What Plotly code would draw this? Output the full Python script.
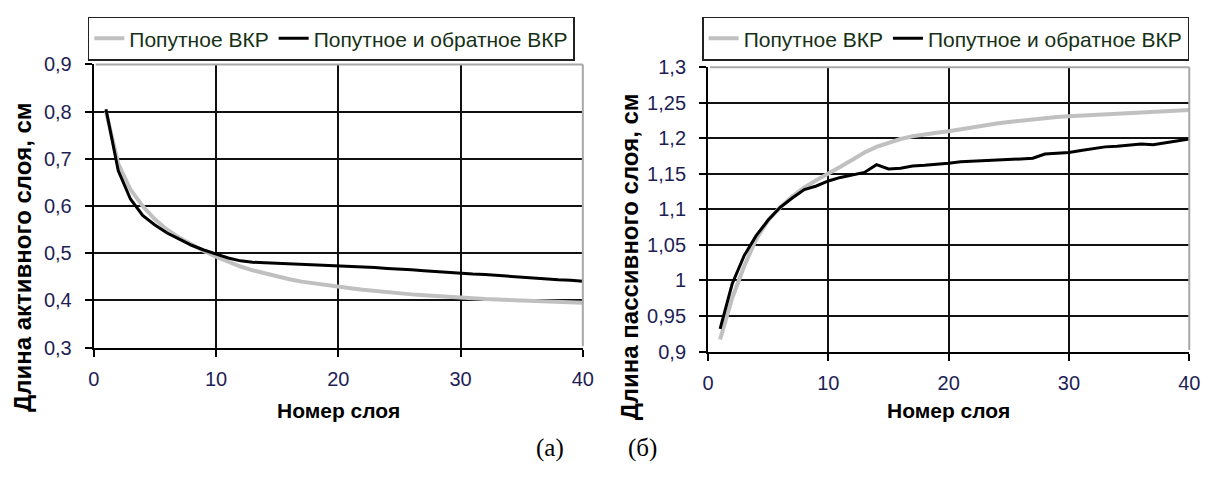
import plotly.graph_objects as go

W, H = 1218, 477

layers = list(range(1, 41))

# (а) Длина активного слоя, см
active_forward = [0.800, 0.690, 0.635, 0.600, 0.572, 0.550, 0.533, 0.518, 0.505, 0.493,
                  0.482, 0.472, 0.464, 0.457, 0.451, 0.445, 0.440, 0.436, 0.432, 0.429,
                  0.426, 0.423, 0.420, 0.418, 0.415, 0.413, 0.411, 0.409, 0.407, 0.405,
                  0.404, 0.403, 0.402, 0.401, 0.400, 0.399, 0.398, 0.397, 0.396, 0.395]
active_both = [0.805, 0.675, 0.615, 0.580, 0.560, 0.543, 0.530, 0.517, 0.507, 0.499,
               0.490, 0.484, 0.481, 0.480, 0.479, 0.478, 0.477, 0.476, 0.475, 0.473,
               0.472, 0.471, 0.470, 0.468, 0.467, 0.465, 0.463, 0.461, 0.459, 0.457,
               0.456, 0.455, 0.453, 0.451, 0.450, 0.448, 0.446, 0.444, 0.443, 0.441]

# (б) Длина пассивного слоя, см
passive_forward = [0.917, 0.975, 1.020, 1.058, 1.085, 1.103, 1.118, 1.131, 1.141, 1.150,
                   1.160, 1.170, 1.180, 1.188, 1.194, 1.199, 1.203, 1.206, 1.208, 1.210,
                   1.213, 1.216, 1.219, 1.221, 1.223, 1.225, 1.227, 1.228, 1.230, 1.231,
                   1.232, 1.233, 1.234, 1.235, 1.236, 1.237, 1.238, 1.239, 1.239, 1.240]
passive_both = [0.932, 0.995, 1.035, 1.063, 1.085, 1.103, 1.116, 1.128, 1.133, 1.140,
                1.145, 1.148, 1.152, 1.163, 1.157, 1.158, 1.161, 1.162, 1.163, 1.165,
                1.167, 1.168, 1.169, 1.170, 1.170, 1.171, 1.172, 1.178, 1.179, 1.180,
                1.183, 1.186, 1.188, 1.189, 1.190, 1.192, 1.191, 1.194, 1.197, 1.199]

name_forward = "Попутное ВКР"
name_both = "Попутное и обратное ВКР"

x_ticks = [0, 10, 20, 30, 40]
y1_ticks = [0.3, 0.4, 0.5, 0.6, 0.7, 0.8, 0.9]
y1_labels = ["0,3", "0,4", "0,5", "0,6", "0,7", "0,8", "0,9"]
y2_ticks = [0.9, 0.95, 1.0, 1.05, 1.1, 1.15, 1.2, 1.25, 1.3]
y2_labels = ["0,9", "0,95", "1", "1,05", "1,1", "1,15", "1,2", "1,25", "1,3"]

GRAY = "#c0c0c0"
BLACK = "#000000"
TICKCOL = "#1e1e55"
LEGCOL = "#163016"
FONT = "Liberation Sans, Arial, sans-serif"

fig = go.Figure()
fig.add_trace(go.Scatter(x=layers, y=active_forward, mode="lines", name=name_forward,
                         line=dict(color=GRAY, width=4), xaxis="x", yaxis="y", legend="legend"))
fig.add_trace(go.Scatter(x=layers, y=active_both, mode="lines", name=name_both,
                         line=dict(color=BLACK, width=3), xaxis="x", yaxis="y", legend="legend"))
fig.add_trace(go.Scatter(x=layers, y=passive_forward, mode="lines", name=name_forward,
                         line=dict(color=GRAY, width=4), xaxis="x2", yaxis="y2", legend="legend2"))
fig.add_trace(go.Scatter(x=layers, y=passive_both, mode="lines", name=name_both,
                         line=dict(color=BLACK, width=3), xaxis="x2", yaxis="y2", legend="legend2"))

# pixel geometry of plot areas
L1 = (89, 585, 56, 353)
L2 = (712, 1200, 59, 357)

def dom(box):
    x0, x1, y0, y1 = box
    return [x0 / W, x1 / W], [1 - y1 / H, 1 - y0 / H]

xd1, yd1 = dom(L1)
xd2, yd2 = dom(L2)

axis_common = dict(showline=True, linecolor=BLACK, linewidth=2, showgrid=True,
                   gridcolor="#111111", gridwidth=1.6, ticks="outside", ticklen=7,
                   tickcolor=BLACK, tickwidth=2, zeroline=False,
                   tickfont=dict(family=FONT, size=20, color=TICKCOL))
x_common = dict(range=[0, 40], tickvals=x_ticks, ticklabelstandoff=5, **axis_common)
y_common = dict(ticklabelstandoff=9, **axis_common)

leg_common = dict(orientation="h", xanchor="left", yanchor="top",
                  bordercolor="#222222", borderwidth=1.5, bgcolor="white",
                  font=dict(family=FONT, size=21, color=LEGCOL), itemwidth=30,
                  tracegroupgap=0)

fig.update_layout(
    width=W, height=H, margin=dict(l=0, r=0, t=0, b=0),
    paper_bgcolor="white", plot_bgcolor="white",
    xaxis=dict(domain=xd1, anchor="y", **x_common),
    yaxis=dict(domain=yd1, range=[0.3, 0.9], tickvals=y1_ticks, ticktext=y1_labels,
               anchor="x", **y_common),
    xaxis2=dict(domain=xd2, anchor="y2", **x_common),
    yaxis2=dict(domain=yd2, range=[0.9, 1.3], tickvals=y2_ticks, ticktext=y2_labels,
                anchor="x2", **y_common),
    legend=dict(x=83 / W, y=1 - 6 / H, **leg_common),
    legend2=dict(x=706 / W, y=1 - 6 / H, **leg_common),
    showlegend=True,
)

# gray top/right frame of each plot area
for xa, ya in (("x", "y"), ("x2", "y2")):
    fig.add_shape(type="line", xref=f"{xa} domain", yref=f"{ya} domain",
                  x0=0.004, x1=1, y0=1, y1=1, line=dict(color="#a8a8a8", width=2), layer="above")
    fig.add_shape(type="line", xref=f"{xa} domain", yref=f"{ya} domain",
                  x0=1, x1=1, y0=0.005, y1=1, line=dict(color="#a8a8a8", width=2), layer="above")

xt_font = dict(family=FONT, size=21, color=BLACK)
yt_font = dict(family=FONT, size=24, color=BLACK)
for box in (L1, L2):
    fig.add_annotation(text="<b>Номер слоя</b>", xref="paper", yref="paper",
                       x=(box[0] + box[1]) / 2 / W, y=1 - 419 / H, showarrow=False,
                       font=xt_font, xanchor="center", yanchor="middle")
fig.add_annotation(text="<b>Длина активного слоя, см</b>", xref="paper", yref="paper",
                   x=16 / W, y=1 - 258 / H, textangle=-90, showarrow=False, font=yt_font,
                   xanchor="center", yanchor="middle")
fig.add_annotation(text="<b>Длина пассивного слоя, см</b>", xref="paper", yref="paper",
                   x=632 / W, y=1 - 258 / H, textangle=-90, showarrow=False, font=yt_font,
                   xanchor="center", yanchor="middle")
cap_font = dict(family="Liberation Serif, Times New Roman, serif", size=25, color=BLACK)
fig.add_annotation(text="(а)", xref="paper", yref="paper", x=552 / W, y=1 - 458 / H,
                   showarrow=False, font=cap_font, xanchor="center", yanchor="middle")
fig.add_annotation(text="(б)", xref="paper", yref="paper", x=646 / W, y=1 - 458 / H,
                   showarrow=False, font=cap_font, xanchor="center", yanchor="middle")

fig.write_html("out.html")
